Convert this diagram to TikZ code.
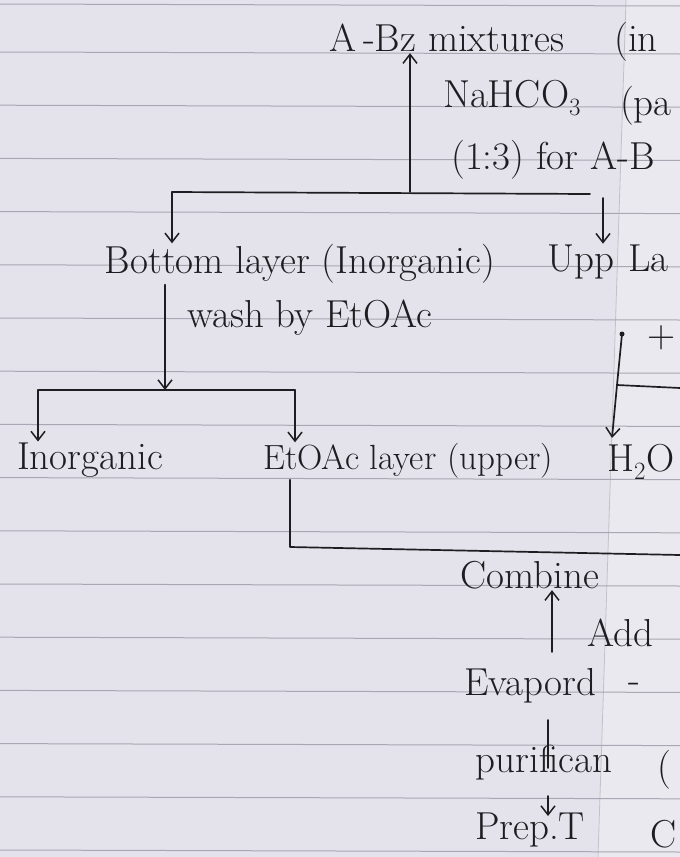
\documentclass[tikz,border=0pt]{standalone}
\usepackage{amsmath,amssymb}
\usepackage{tikz}
\usetikzlibrary{arrows.meta}
\usepackage{xcolor}

\definecolor{paper}{HTML}{E4E2EA}
\definecolor{rule}{HTML}{A8A7B3}
\definecolor{ink}{HTML}{1E1E22}

\tikzset{
  hand/.style={font=\fontsize{39}{41}\selectfont, text=ink, inner sep=1pt},
  pen/.style={draw=ink, line width=1.7pt, line cap=round, line join=round},
  penarrow/.style={pen, -{Straight Barb[length=9pt,width=14pt,line width=1.5pt]}}
}

\begin{document}
\begin{tikzpicture}[x=1pt, y=-1pt]
    \useasboundingbox (0,0) rectangle (680,857);
    % -------------------------
    % Notebook page
    % -------------------------
    \fill[paper] (0,0) rectangle (680,857);
    \fill[white, opacity=0.25] (626,0) -- (680,0) -- (680,857) -- (598,857) -- cycle;
    \draw[rule!70, line width=0.8pt] (626,0) -- (598,857);
    \draw[rule, line width=1pt] (0,4) -- (680,6);
    \foreach \k in {0,...,15}
        \draw[rule, line width=1pt] (0,52+53.2*\k) -- (680,54+53.2*\k);

    % -------------------------
    % Top: mixture and NaHCO3
    % -------------------------
    \node[hand] (mix) at (447,38) {A\,-Bz mixtures};
    \node[hand] (in) at (636,42) {(in};
    \node[hand] (nahco) at (512,98) {NaHCO$_3$};
    \node[hand] (pa) at (646,106) {(pa};
    \node[hand, anchor=west] (ratio) at (450,160) {(1:3) for A-B};

    \coordinate (j1) at (410,192);
    \coordinate (l1) at (172,192);
    \coordinate (r1) at (590,194);
    \coordinate (r2) at (603,198);
    \draw[penarrow] (j1) -- (j1 |- mix.south);
    \draw[pen] (l1) -- (r1);

    % -------------------------
    % Second row
    % -------------------------
    \node[hand] (bottom) at (300,264) {Bottom layer (Inorganic)};
    \node[hand, anchor=west] (upp) at (546,262) {Upp\hspace{14pt}La};
    \draw[penarrow] (l1) -- (l1 |- bottom.north);
    \draw[penarrow] (r2) -- (r2 |- upp.north);

    \node[hand, anchor=west] (wash) at (186,318) {wash by EtOAc};
    \node[hand] (plus) at (662,338) {+};

    \coordinate (j2) at (165,390);
    \coordinate (l2) at (38,390);
    \coordinate (r3) at (295,390);
    \draw[penarrow] (bottom.south -| j2) -- (j2);
    \draw[pen] (l2) -- (r3);

    % -------------------------
    % Third row
    % -------------------------
    \node[hand] (inorg) at (90,460) {Inorganic};
    \node[hand, font=\fontsize{35}{37}\selectfont, anchor=west] (etoac) at (262,461) {EtOAc layer (upper)};
    \node[hand, anchor=west] (water) at (606,462) {H$_2$O};
    \draw[penarrow] (l2) -- (l2 |- inorg.north);
    \draw[penarrow] (r3) -- (r3 |- etoac.north);

    % right column
    \coordinate (k1) at (622,334);
    \coordinate (k2) at (617,385);
    \coordinate (k3) at (680,388);
    \coordinate (k4) at (612,438);
    \fill[ink] (k1) circle (2.5pt);
    \draw[pen] (k1) -- (k2) -- (k3);
    \draw[penarrow] (k2) -- (k4);

    % -------------------------
    % Combine and work-up
    % -------------------------
    \coordinate (m1) at (290,547);
    \coordinate (m2) at (680,555);
    \draw[pen] (etoac.south -| m1) -- (m1) -- (m2);

    \node[hand] (combine) at (530,575) {Combine};
    \node[hand, anchor=west] (add) at (586,633) {Add};
    \node[hand] (evap) at (530,686) {Evapord};
    \node[hand] (dash) at (634,688) {-};
    \node[hand] (purif) at (544,763) {purifican};
    \node[hand] (cpar) at (664,770) {(};
    \node[hand] (prep) at (530,830) {Prep.T};
    \node[hand] (cco) at (664,834) {C};

    \coordinate (c1) at (552,652);
    \coordinate (p1) at (548,720);
    \coordinate (p2) at (548,768);
    \coordinate (p3) at (548,796);
    \coordinate (p4) at (548,816);
    \draw[penarrow] (c1) -- (c1 |- combine.south);
    \draw[pen] (p1) -- (p2);
    \draw[penarrow] (p3) -- (p4);
\end{tikzpicture}
\end{document}
